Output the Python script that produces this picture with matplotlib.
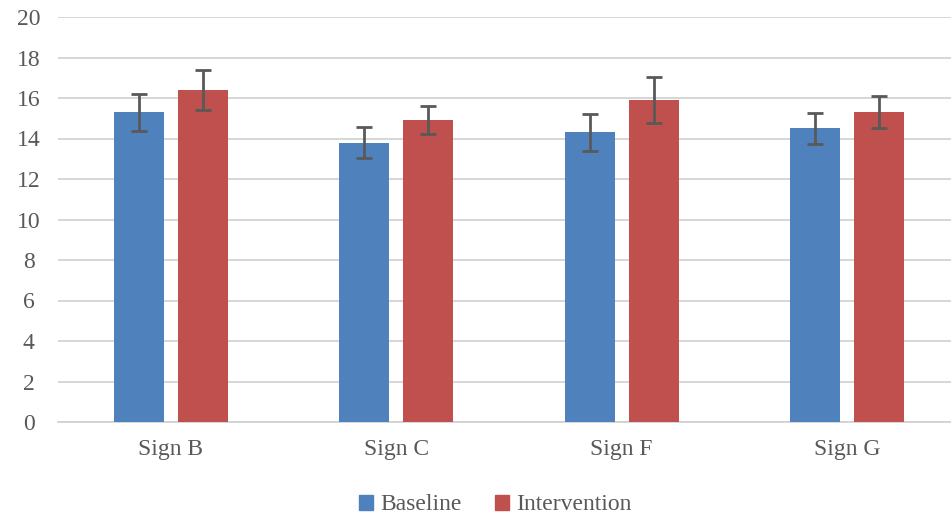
import numpy as np
import matplotlib
matplotlib.use("Agg")
import matplotlib.pyplot as plt
from matplotlib.patches import Patch

categories = ["Sign B", "Sign C", "Sign F", "Sign G"]
baseline = [15.3, 13.8, 14.3, 14.5]
baseline_err = [0.92, 0.78, 0.92, 0.75]
intervention = [16.4, 14.9, 15.9, 15.3]
intervention_err = [1.0, 0.7, 1.15, 0.8]

BLUE = "#4F81BD"
RED = "#C0504D"
TEXT = "#595959"

plt.rcParams["font.family"] = ["Liberation Serif", "DejaVu Serif"]

fig = plt.figure(figsize=(9.51, 5.16), dpi=100)
ax = fig.add_axes([58 / 951, 1 - 422 / 516, 902 / 951, 405 / 516])

x = np.arange(len(categories))
off = 0.142
w = 0.222
err_kw = dict(ecolor="#595959", elinewidth=2, capsize=6, capthick=2)
ax.bar(x - off, baseline, w, yerr=baseline_err, color=BLUE, error_kw=err_kw, zorder=3)
ax.bar(x + off, intervention, w, yerr=intervention_err, color=RED, error_kw=err_kw, zorder=3)

ax.set_xlim(-0.5, 3.5)
ax.set_ylim(0, 20)
ax.set_yticks(np.arange(0, 21, 2))
ax.set_xticks(x)
ax.set_xticklabels(categories)
ax.grid(axis="y", color="#D0D0D0", linewidth=1.2, zorder=0)
for s in ["top", "right", "left"]:
    ax.spines[s].set_visible(False)
ax.spines["bottom"].set_color("#D0D0D0")
ax.spines["bottom"].set_linewidth(1.2)
ax.tick_params(axis="both", length=0, labelsize=17, colors=TEXT)
ax.tick_params(axis="x", pad=12)
ax.tick_params(axis="y", pad=21)
for lbl in ax.get_yticklabels():
    lbl.set_horizontalalignment("center")

handles = [Patch(color=BLUE, label="Baseline"), Patch(color=RED, label="Intervention")]
leg = fig.legend(handles=handles, loc="center", bbox_to_anchor=(495 / 951, 1 - 505 / 516),
                 ncol=2, frameon=False, fontsize=17, handlelength=0.6, handleheight=0.6,
                 handletextpad=0.3, columnspacing=1.4)
for t in leg.get_texts():
    t.set_color(TEXT)

fig.savefig("out.png", dpi=100)
